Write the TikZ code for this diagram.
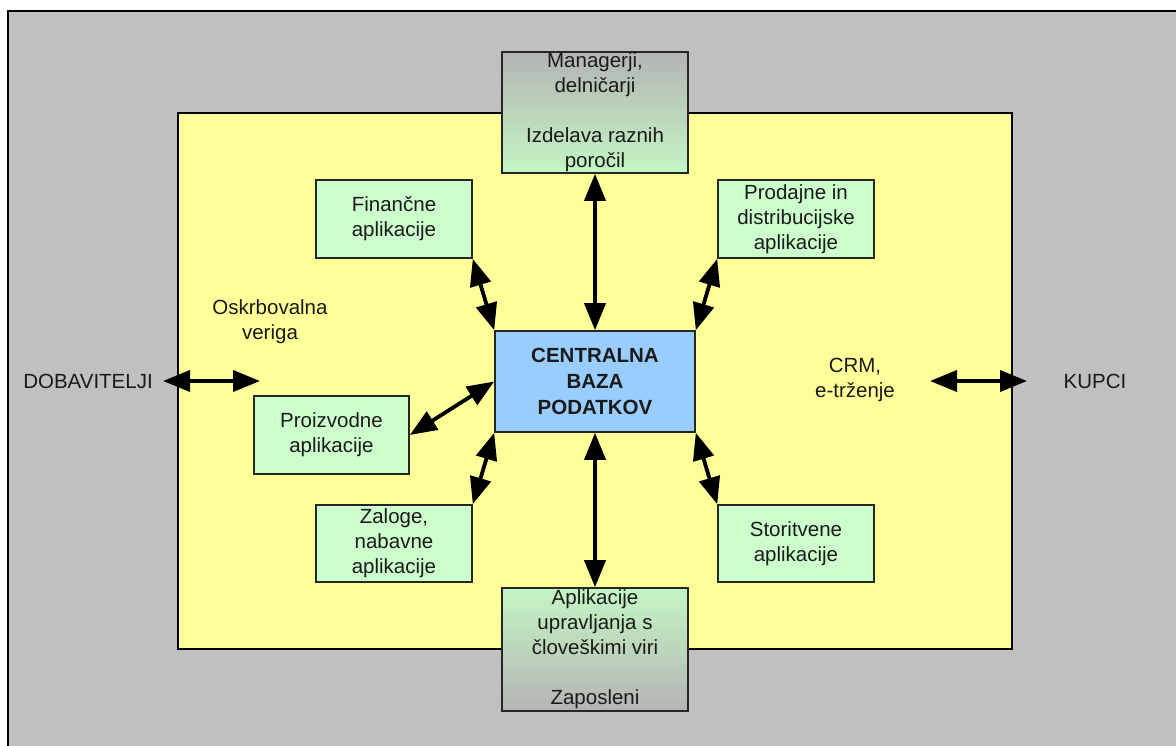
\documentclass[tikz,border=0pt]{standalone}
\usepackage{fontspec}
\setmainfont{Liberation Sans}
\usetikzlibrary{arrows.meta}
\definecolor{bggray}{HTML}{C0C0C0}
\definecolor{zone}{HTML}{FFFF99}
\definecolor{appgreen}{HTML}{CCFFCC}
\definecolor{coreblue}{HTML}{99CCFF}
\definecolor{ink}{HTML}{1A1A1A}
\definecolor{fadegray}{HTML}{B4B4B4}
\definecolor{fadegreen}{HTML}{C4F6C4}
\begin{document}
\begin{tikzpicture}[x=1pt,y=-1pt,
  every node/.style={text=ink, font=\fontsize{20.5}{25}\selectfont, align=center, inner sep=0pt},
  appbox/.style={draw=black!85, line width=1.6pt, fill=appgreen},
  gradtop/.style={draw=black!85, line width=1.6pt, top color=fadegray, bottom color=fadegreen},
  gradbot/.style={draw=black!85, line width=1.6pt, top color=fadegreen, bottom color=fadegray},
  link/.style={line width=3.8pt, {Triangle[length=27pt,width=21pt]}-{Triangle[length=27pt,width=21pt]}}
]
\useasboundingbox (0,0) rectangle (1176,746);
\fill[white] (0,0) rectangle (1176,746);
% outer area and enterprise zone
\draw[fill=bggray, line width=2pt] (8,11) rectangle (1200,770);
\draw[fill=zone, line width=2pt] (178,113) rectangle (1012,649);

% central database
\node[draw=black!85, line width=1.6pt, fill=coreblue, minimum width=200pt, minimum height=101pt, font=\fontsize{20.5}{26}\selectfont\bfseries]
  (core) at (595,381.5) {CENTRALNA\\BAZA\\PODATKOV};

% stakeholder boxes
\node[gradtop, minimum width=186pt, minimum height=121pt] (mgr) at (595,112.5)
  {Managerji,\\delničarji\\~\\Izdelava raznih\\poročil};
\node[gradbot, minimum width=186pt, minimum height=123pt] (hr) at (595,649.5)
  {Aplikacije\\upravljanja s\\človeškimi viri\\~\\Zaposleni};

% application boxes
\node[appbox, minimum width=156pt, minimum height=78pt] (fin) at (394,219) {Finančne\\aplikacije};
\node[appbox, minimum width=156pt, minimum height=78pt] (sales) at (796,219) {Prodajne in\\distribucijske\\aplikacije};
\node[appbox, minimum width=155pt, minimum height=78pt] (prod) at (331.5,435) {Proizvodne\\aplikacije};
\node[appbox, minimum width=156pt, minimum height=77pt] (stock) at (394,543.5) {Zaloge,\\nabavne\\aplikacije};
\node[appbox, minimum width=156pt, minimum height=77pt] (serv) at (796,543.5) {Storitvene\\aplikacije};

% free labels
\node (chain) at (270,322) {Oskrbovalna\\veriga};
\node (crm) at (855,380) {CRM,\\e-trženje};
\node (sup) at (88,381) {DOBAVITELJI};
\node (cust) at (1095,381) {KUPCI};

% free arrow ends
\coordinate (supA) at (163,381);
\coordinate (supB) at (260,381);
\coordinate (custA) at (930,381);
\coordinate (custB) at (1027,381);

% connectors
\draw[link] (mgr.south) -- (core.north);
\draw[link] (core.south) -- (hr.north);
\draw[link] (fin.south east) -- (core.north west);
\draw[link] (sales.south west) -- (core.north east);
\draw[link] (prod.east) -- (core.west);
\draw[link] (stock.north east) -- (core.south west);
\draw[link] (serv.north west) -- (core.south east);
\draw[link] (supA) -- (supB);
\draw[link] (custA) -- (custB);
\end{tikzpicture}
\end{document}
